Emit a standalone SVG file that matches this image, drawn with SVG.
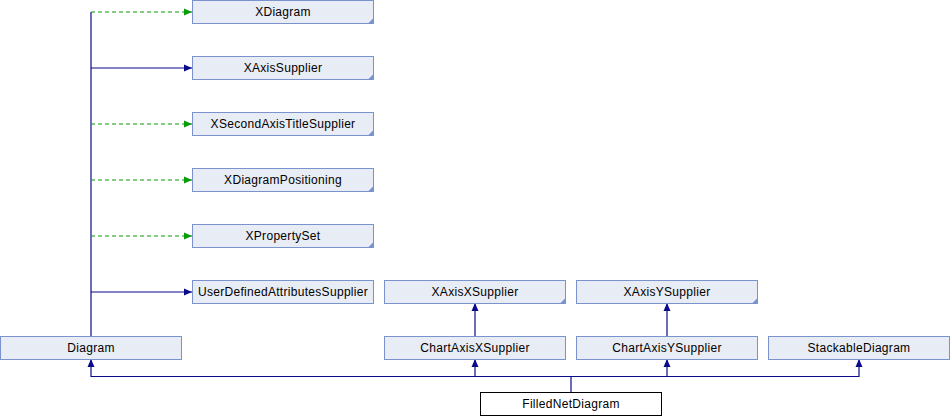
<svg xmlns="http://www.w3.org/2000/svg" width="950" height="416" viewBox="0 0 950 416">
<defs>
<style>
.n rect{fill:#e8ecf4;stroke:#7b93cc;stroke-width:1}
.n.main rect{fill:#ffffff;stroke:#000000}
.n text{font-family:"Liberation Sans",Arial,sans-serif;font-size:12px;fill:#000;text-anchor:middle;letter-spacing:0.3px}
.n path{fill:#7b93cc;stroke:none}
.e{fill:none;stroke:#0a0a8c;stroke-width:1.2}
.d{fill:none;stroke:#0a9a0a;stroke-width:1.2;stroke-dasharray:4,3}
</style>
<marker id="ab" markerUnits="userSpaceOnUse" markerWidth="8" markerHeight="8" viewBox="0 0 8 8" refX="8" refY="4" orient="auto"><path d="M0,0.5 L8,4 L0,7.5 Z" fill="#0a0a8c"/></marker>
<marker id="ag" markerUnits="userSpaceOnUse" markerWidth="8" markerHeight="8" viewBox="0 0 8 8" refX="8" refY="4" orient="auto"><path d="M0,0.5 L8,4 L0,7.5 Z" fill="#0a9a0a"/></marker>
</defs>
<rect x="0" y="0" width="950" height="416" fill="#ffffff"/>
<g id="connectors">
<path class="e" d="M91,336 V12"/>
<path class="d" d="M91,12 H192" marker-end="url(#ag)"/>
<path class="e" d="M91,68 H192" marker-end="url(#ab)"/>
<path class="d" d="M91,124 H192" marker-end="url(#ag)"/>
<path class="d" d="M91,180 H192" marker-end="url(#ag)"/>
<path class="d" d="M91,236 H192" marker-end="url(#ag)"/>
<path class="e" d="M91,292 H192" marker-end="url(#ab)"/>
<path class="e" d="M571,392 V376.5 H91 V359" marker-end="url(#ab)"/>
<path class="e" d="M475,376.5 V359" marker-end="url(#ab)"/>
<path class="e" d="M571,376.5 H667 V359" marker-end="url(#ab)"/>
<path class="e" d="M667,376.5 H859 V359" marker-end="url(#ab)"/>
<path class="e" d="M475,336 V303" marker-end="url(#ab)"/>
<path class="e" d="M667,336 V303" marker-end="url(#ab)"/>
</g>
<g id="XDiagram" class="n"><rect x="192.5" y="0.5" width="181" height="23"/><path d="M373.5,18 V23.5 H368 Z"/><text x="283" y="16">XDiagram</text></g>
<g id="XAxisSupplier" class="n"><rect x="192.5" y="56.5" width="181" height="23"/><path d="M373.5,74 V79.5 H368 Z"/><text x="283" y="72">XAxisSupplier</text></g>
<g id="XSecondAxisTitleSupplier" class="n"><rect x="192.5" y="112.5" width="181" height="23"/><path d="M373.5,130 V135.5 H368 Z"/><text x="283" y="128">XSecondAxisTitleSupplier</text></g>
<g id="XDiagramPositioning" class="n"><rect x="192.5" y="168.5" width="181" height="23"/><path d="M373.5,186 V191.5 H368 Z"/><text x="283" y="184">XDiagramPositioning</text></g>
<g id="XPropertySet" class="n"><rect x="192.5" y="224.5" width="181" height="23"/><path d="M373.5,242 V247.5 H368 Z"/><text x="283" y="240">XPropertySet</text></g>
<g id="UserDefinedAttributesSupplier" class="n"><rect x="192.5" y="280.5" width="181" height="23"/><text x="283" y="296">UserDefinedAttributesSupplier</text></g>
<g id="XAxisXSupplier" class="n"><rect x="384.5" y="280.5" width="181" height="23"/><path d="M565.5,298 V303.5 H560 Z"/><text x="475" y="296">XAxisXSupplier</text></g>
<g id="XAxisYSupplier" class="n"><rect x="576.5" y="280.5" width="181" height="23"/><path d="M757.5,298 V303.5 H752 Z"/><text x="667" y="296">XAxisYSupplier</text></g>
<g id="Diagram" class="n"><rect x="0.5" y="336.5" width="181" height="23"/><text x="91" y="352">Diagram</text></g>
<g id="ChartAxisXSupplier" class="n"><rect x="384.5" y="336.5" width="181" height="23"/><text x="475" y="352">ChartAxisXSupplier</text></g>
<g id="ChartAxisYSupplier" class="n"><rect x="576.5" y="336.5" width="181" height="23"/><text x="667" y="352">ChartAxisYSupplier</text></g>
<g id="StackableDiagram" class="n"><rect x="768.5" y="336.5" width="181" height="23"/><text x="859" y="352">StackableDiagram</text></g>
<g id="FilledNetDiagram" class="n main"><rect x="480.5" y="392.5" width="181" height="23"/><text x="571" y="408">FilledNetDiagram</text></g>
</svg>
